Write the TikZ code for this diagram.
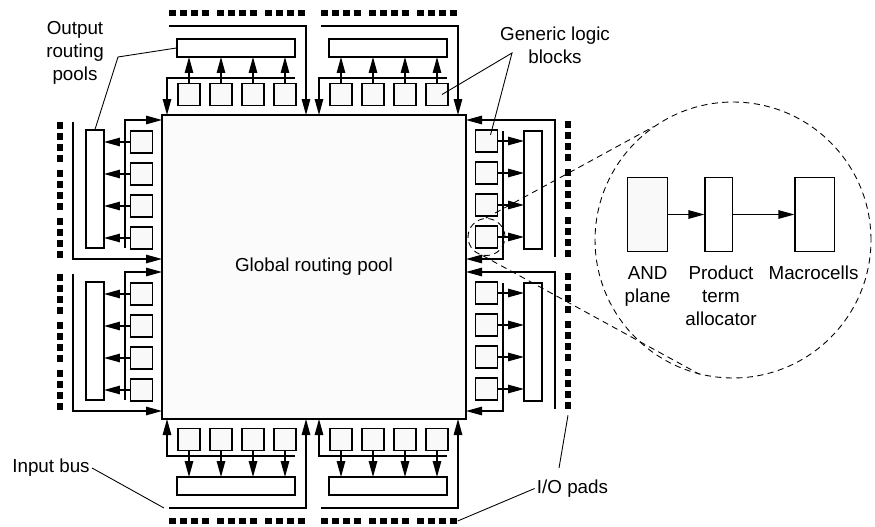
\documentclass[tikz,border=0pt]{standalone}
\usepackage{fontspec}
\setmainfont{Liberation Sans}
\usetikzlibrary{arrows.meta}

\begin{document}
\begin{tikzpicture}[x=0.02cm, y=-0.02cm, line width=0.7pt,
    font=\fontsize{10.7}{13.1}\selectfont,
    arr/.style={-{Triangle[length=0.32cm,width=0.17cm]}},
    blk/.style={draw, fill=gray!5, minimum size=0.44cm, inner sep=0pt},
    pool/.style={draw, fill=white, minimum width=2.36cm, minimum height=0.36cm, inner sep=0pt, transform shape},
    pad/.style={fill=black, minimum size=0.134cm, inner sep=0pt},
    zoomline/.style={dash pattern=on 3.5pt off 2.5pt, line width=0.5pt},
    leader/.style={line width=0.5pt}]

    \useasboundingbox (0,0) rectangle (875,527);

    % Draw the global routing pool
    \node[draw, fill=gray!3, minimum size=6.08cm, inner sep=0pt] (grp) at (314,267) {Global routing pool};

    % Draw the four sides (blocks, output pools, buses, pads)
    \foreach \sd/\ox/\oy/\rot/\ys in {t/162/115/0/-1, b/162/419/0/1, l/162/115/-90/1, r/466/416/90/1} {
      \begin{scope}[shift={(\ox,\oy)}, rotate=\rot, yscale=\ys]
        \foreach \h [evaluate=\h as \s using 152*\h] in {0,1} {
          \node[pool] (\sd-pool-\h) at (\s+74,67) {};
          \foreach \k in {0,...,3} {
            \node[blk] (\sd-blk-\h-\k) at (\s+27+32*\k,20.5) {};
            \coordinate (\sd-in-\h-\k) at (\s+27+32*\k,58);
            \draw[arr] (\sd-blk-\h-\k) -- (\sd-in-\h-\k);
            \fill (\s+27+32*\k,37) circle[radius=0.03cm];
          }
          % feedback bus and input bus
          \draw[arr] (\s+133,37) -- (\s+5,37) -- (\s+5,0);
          \draw[arr] (\s+7,89) -- (\s+144,89) -- (\s+144,0);
          % I/O pads
          \foreach \i in {0,...,11}
            \node[pad] (\sd-pad-\h-\i) at ({\s+10.7+11*\i+4*int(\i/4)},102) {};
        }
      \end{scope}
    }

    % Draw the magnified logic block
    \node[draw, zoomline, circle, minimum size=0.74cm, inner sep=0pt] (spot) at (r-blk-1-0) {};
    \node[draw, zoomline, circle, minimum size=5.52cm, inner sep=0pt] (mag) at (733,240) {};
    \draw[zoomline] (spot.92) -- (mag.125);
    \draw[zoomline] (spot.258) -- (mag.256);

    \node[draw, fill=gray!5, minimum width=0.8cm, minimum height=1.49cm, inner sep=0pt] (andp) at (647.7,214.5) {};
    \node[draw, minimum width=0.546cm, minimum height=1.49cm, inner sep=0pt] (pta) at (718.7,214.5) {};
    \node[draw, minimum width=0.786cm, minimum height=1.49cm, inner sep=0pt] (mcell) at (814.7,214.5) {};
    \draw[arr] (andp) -- (pta);
    \draw[arr] (pta) -- (mcell);
    \node[anchor=north, align=center, inner sep=0pt] (andlbl) at (647.7,265.5) {AND\\plane};
    \node[anchor=north, align=center, inner sep=0pt] (ptalbl) at (721,265.5) {Product\\term\\allocator};
    \node[anchor=north, align=center, inner sep=0pt] (mcelllbl) at (813.5,265.5) {Macrocells};

    % Labels with leader lines
    \node[align=center, inner sep=0pt] (orp) at (75,53) {Output\\routing\\pools};
    \coordinate (orpk) at (118,57);
    \draw[leader] (t-pool-0.west) -- (orpk) -- (l-pool-0.west);

    \node[align=center, inner sep=0pt] (glb) at (555,45.6) {Generic logic\\blocks};
    \coordinate (glbk) at (512,53);
    \draw[leader] ([shift={(5,0)}]t-blk-1-3.center) -- (glbk) -- ([shift={(4,-6)}]r-blk-1-3.center);

    \node[inner sep=1pt] (ibus) at (51,468) {Input bus};
    \coordinate (ibusk) at (164,508);
    \draw[leader] (ibus.east) -- (ibusk);

    \node[inner sep=1pt] (iop) at (572.5,488.5) {I/O pads};
    \coordinate (iopk) at (559,468);
    \draw[leader] (iop.west) -- (b-pad-1-11.east);
    \draw[leader] (iopk) -- ([yshift=-0.12cm]r-pad-0-0.south);

\end{tikzpicture}
\end{document}
